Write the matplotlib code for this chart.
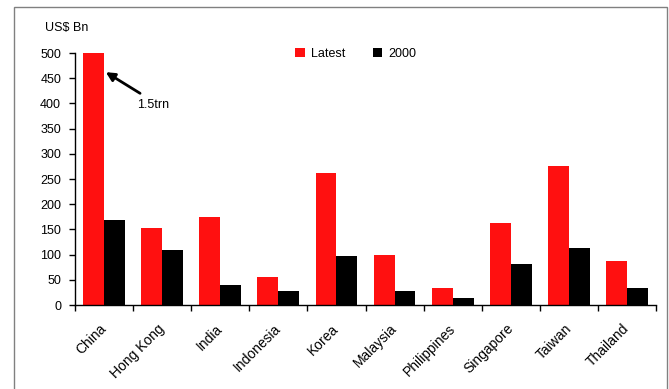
import numpy as np
import matplotlib
matplotlib.use("Agg")
import matplotlib.pyplot as plt
from matplotlib.patches import Rectangle

plt.rcParams["font.family"] = ["Liberation Sans", "DejaVu Sans"]

countries = ["China", "Hong Kong", "India", "Indonesia", "Korea", "Malaysia",
             "Philippines", "Singapore", "Taiwan", "Thailand"]
latest = [1500, 153, 175, 56, 261, 100, 34, 162, 275, 88]
y2000 = [169, 110, 40, 28, 98, 28, 14, 82, 114, 34]
yticks = [0, 50, 100, 150, 200, 250, 300, 350, 400, 450, 500]

fig = plt.figure(figsize=(6.69, 3.89), dpi=100)
# grey frame round the chart
fig.patches.append(Rectangle((14 / 669, -0.02), 653 / 669, 1 - 7 / 389 + 0.02,
                             transform=fig.transFigure, fill=False,
                             edgecolor="#808080", linewidth=1.0))

ax = fig.add_axes([75 / 669, 1 - 305 / 389, 581 / 669, 252 / 389])
x = np.arange(len(countries))
w = 0.36
ax.bar(x - 0.18, latest, w, color="#ff1010", label="Latest")
ax.bar(x + 0.18, y2000, w, color="black", label="2000")

ax.set_xlim(-0.5, len(countries) - 0.5)
ax.set_ylim(0, 500)
ax.set_yticks(yticks)
ax.tick_params(axis="y", direction="out", length=4, width=1, pad=6, labelsize=9)
ax.set_xticks(np.arange(len(countries) + 1) - 0.5, minor=False)
ax.set_xticklabels([])
ax.tick_params(axis="x", which="major", direction="out", length=4, width=1)
ax.set_xticks(x - 0.08, minor=True)
ax.set_xticklabels(countries, minor=True, rotation=45, ha="right",
                   rotation_mode="anchor", fontsize=10)
ax.tick_params(axis="x", which="minor", length=0, pad=12)
for s in ["top", "right"]:
    ax.spines[s].set_visible(False)
ax.spines["left"].set_linewidth(1.0)
ax.spines["bottom"].set_linewidth(1.0)

ax.legend(loc="upper left", bbox_to_anchor=(0.36, 1.065), ncol=2, frameon=False,
          fontsize=9, handlelength=0.75, handleheight=0.75, columnspacing=2.2,
          handletextpad=0.5)

ax.annotate("", xy=(0.03, 462), xytext=(0.62, 420),
            arrowprops=dict(arrowstyle="-|>", color="black", lw=2,
                            mutation_scale=13, shrinkA=0, shrinkB=0))
ax.text(0.57, 397, "1.5trn", fontsize=9, ha="left", va="center")

fig.text(45 / 669, 1 - 28 / 389, "US$ Bn", fontsize=9, ha="left", va="center")

fig.savefig("out.png", dpi=100)
